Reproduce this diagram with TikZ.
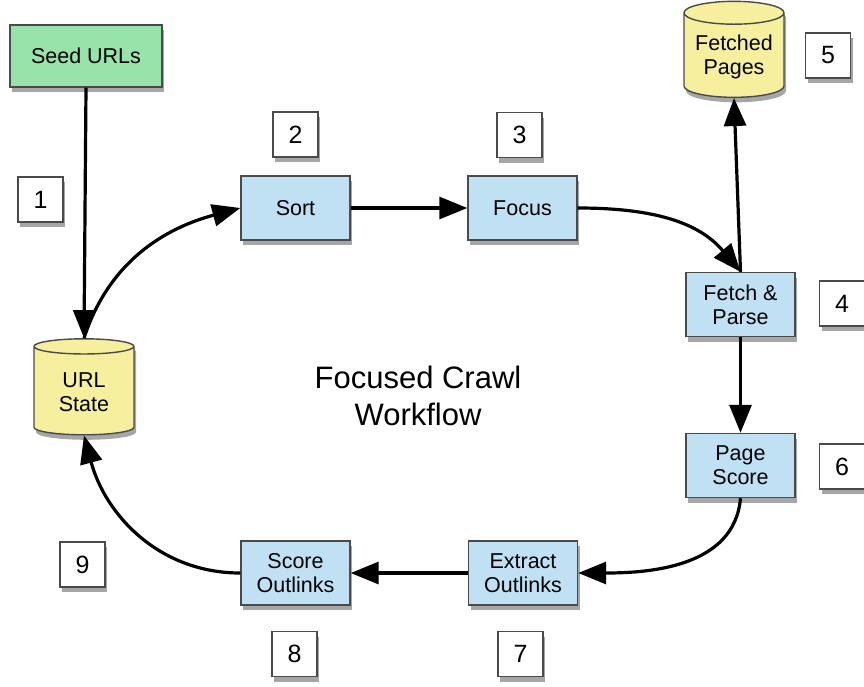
\documentclass[tikz,border=0pt]{standalone}
\usepackage{fontspec}
\setmainfont{Liberation Sans}
\usetikzlibrary{shapes.geometric,shadows,arrows.meta}
\definecolor{boxblue}{HTML}{BFE1F3}
\definecolor{boxgreen}{HTML}{98E3AA}
\definecolor{boxyellow}{HTML}{F6F09E}
\definecolor{edgegray}{HTML}{4A4A4A}
\tikzset{
  shade/.style={drop shadow={shadow xshift=2pt,shadow yshift=-5pt,opacity=0.35,fill=black}},
  stepbox/.style={draw=edgegray,line width=1.4pt,fill=boxblue,minimum width=109pt,minimum height=64pt,align=center,font=\fontsize{21.5}{24}\selectfont,shade,inner sep=2pt},
  seedbox/.style={stepbox,fill=boxgreen,minimum width=152pt,minimum height=62pt},
  numbox/.style={draw=edgegray,line width=1.2pt,fill=white,minimum width=45pt,minimum height=45pt,font=\fontsize{25}{25}\selectfont,shade,inner sep=0pt},
  store/.style={cylinder,shape border rotate=90,aspect=0.28,draw=edgegray,line width=1.4pt,fill=boxyellow,minimum width=100pt,minimum height=96pt,align=center,font=\fontsize{21.5}{24}\selectfont,shade,inner sep=2pt},
  flow/.style={line width=3.2pt,-{Triangle[length=28pt,width=22pt]},black},
}
\begin{document}
\begin{tikzpicture}[x=1pt,y=-1pt]
\useasboundingbox (0,0) rectangle (864,686);
\node[seedbox] (seed) at (86,56) {Seed URLs};
\node[store] (url) at (84,392) {URL\\State};
\node[store] (fetched) at (734,57) {Fetched\\Pages};
\node[stepbox] (sort) at (295.5,208) {Sort};
\node[stepbox] (focus) at (522.5,208) {Focus};
\node[stepbox] (fetch) at (740.5,304.5) {Fetch \&\\Parse};
\node[stepbox] (score) at (740.5,465.5) {Page\\Score};
\node[stepbox] (extract) at (523,573) {Extract\\Outlinks};
\node[stepbox] (outlinks) at (295.5,573) {Score\\Outlinks};
\node[font=\fontsize{31}{37}\selectfont,align=center] (title) at (418,396) {Focused Crawl\\Workflow};
\node[numbox] (n1) at (40.5,199.5) {1};
\node[numbox] (n2) at (295.5,134.5) {2};
\node[numbox] (n3) at (519.5,135) {3};
\node[numbox] (n4) at (842,303.5) {4};
\node[numbox] (n5) at (828,55.5) {5};
\node[numbox] (n6) at (842,466.5) {6};
\node[numbox] (n7) at (520.5,654) {7};
\node[numbox] (n8) at (294.5,654) {8};
\node[numbox] (n9) at (82.5,564.5) {9};
\draw[flow] (seed.south) -- (url.north);
\draw[flow] (url.north) to[out=72,in=195] (sort.west);
\draw[flow] (sort.east) -- (focus.west);
\draw[flow] (focus.east) to[out=0,in=130] (fetch.north);
\draw[flow] (fetch.north) -- (fetched.south);
\draw[flow] (fetch.south) -- (score.north);
\draw[flow] (score.south) to[out=-95,in=0] (extract.east);
\draw[flow] (extract.west) -- (outlinks.east);
\draw[flow] (outlinks.west) to[out=180,in=-75] (url.south);
\end{tikzpicture}
\end{document}
